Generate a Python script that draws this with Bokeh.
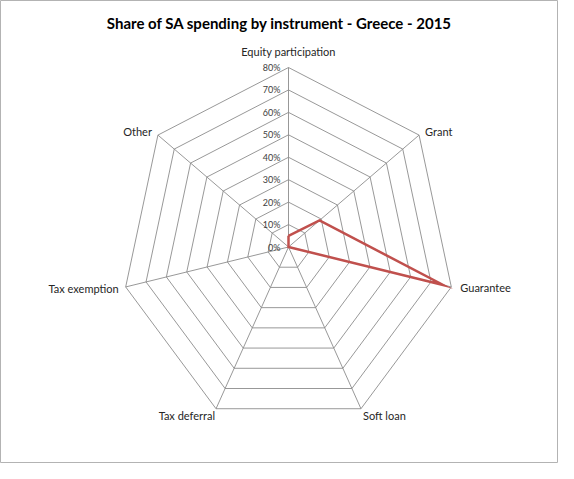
import math
from bokeh.plotting import figure
from bokeh.models import Range1d, Label, ColumnDataSource
from bokeh.embed import file_html
from bokeh.resources import INLINE
from bokeh.core.properties import value

# ---- data ----
categories = ["Equity participation", "Grant", "Guarantee", "Soft loan",
              "Tax deferral", "Tax exemption", "Other"]
shares = [5, 19, 76, 0, 0, 0, 0]          # percent
ticks = [0, 10, 20, 30, 40, 50, 60, 70, 80]
tick_labels = ["0%", "10%", "20%", "30%", "40%", "50%", "60%", "70%", "80%"]
title_text = "Share of SA spending by instrument - Greece - 2015"

# ---- layout ----
W, H = 558, 463
cx_px, cy_px = 288, 246.5          # centre of the radar in canvas pixels
sx, sy = 167 / 80.0, 179.5 / 80.0  # px per percent (x, y)

p = figure(width=W, height=H, output_backend="svg", toolbar_location=None,
           x_axis_type=None, y_axis_type=None, min_border=0,
           x_range=Range1d(-cx_px / sx, (W - cx_px) / sx),
           y_range=Range1d(-(H - cy_px) / sy, cy_px / sy))
p.grid.visible = False
p.outline_line_color = "#b3b3b3"
p.outline_line_width = 1
p.background_fill_color = "white"
p.border_fill_color = "white"

n = len(categories)
ang = [math.pi / 2 - 2 * math.pi * k / n for k in range(n)]
rmax = ticks[-1]

# rings
ring_xs, ring_ys = [], []
for t in ticks[1:]:
    ring_xs.append([t * math.cos(a) for a in ang] + [t * math.cos(ang[0])])
    ring_ys.append([t * math.sin(a) for a in ang] + [t * math.sin(ang[0])])
p.multi_line(ring_xs, ring_ys, line_color="#8c8c8c", line_width=0.9)

# spokes
sp_xs = [[0, rmax * math.cos(a)] for a in ang]
sp_ys = [[0, rmax * math.sin(a)] for a in ang]
p.multi_line(sp_xs, sp_ys, line_color="#8c8c8c", line_width=0.9)

# tick labels
p.text(x=[0] * len(ticks), y=ticks, text=tick_labels, x_offset=-8,
       text_align="right", text_baseline="middle",
       text_font=value("Lato"), text_font_size="9px", text_color="#404040")

# category labels
lab_x = [rmax * math.cos(a) for a in ang]
lab_y = [rmax * math.sin(a) for a in ang]
aligns = ["center", "left", "left", "left", "right", "right", "right"]
xoffs = [0, 6, 9, 2, -1, -7, -6]
yoffs = [-16, -4, 1, 7, 7, 2, -4]
src = ColumnDataSource(dict(x=lab_x, y=lab_y, t=categories, a=aligns,
                            xo=xoffs, yo=yoffs))
p.text(x="x", y="y", text="t", text_align="a", x_offset="xo", y_offset="yo",
       source=src, text_baseline="middle", text_font=value("Lato"),
       text_font_size="11px", text_color="#262626")

# series
px = [v * math.cos(a) for v, a in zip(shares, ang)]
py = [v * math.sin(a) for v, a in zip(shares, ang)]
p.line(px + [px[0]], py + [py[0]], line_color="#C0504D", line_width=2.5,
       line_join="miter")

# title
p.add_layout(Label(x=279, y=H - 22, x_units="screen", y_units="screen",
                   text=title_text, text_align="center",
                   text_baseline="middle", text_font="Lato",
                   text_font_size="15px", text_font_style="bold",
                   text_color="black"))

open("out.html", "w").write(file_html(p, INLINE))
